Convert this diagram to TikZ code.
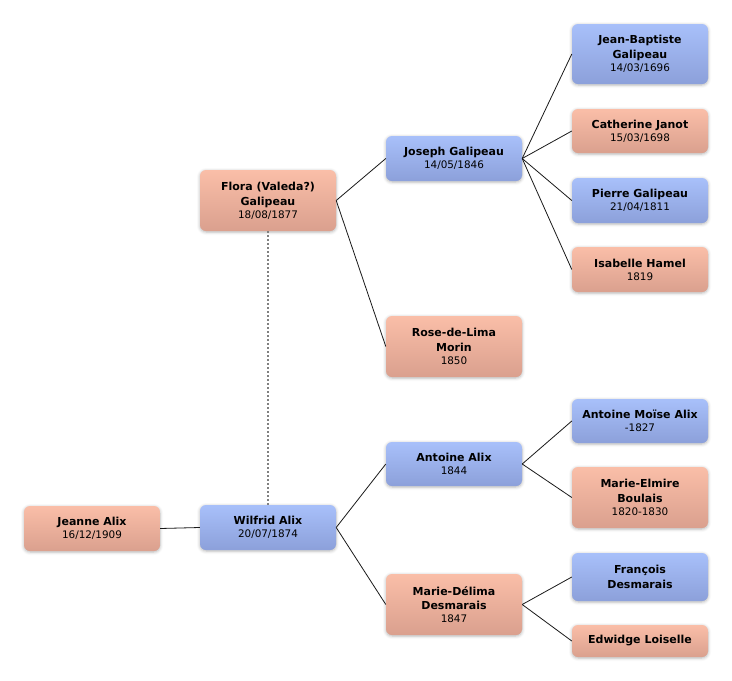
\documentclass[tikz,border=0pt]{standalone}
\usepackage{fontspec}
\setmainfont{DejaVu Sans}
\usetikzlibrary{shadows.blur}
\definecolor{pinktop}{HTML}{FABEA8}
\definecolor{pinkbot}{HTML}{DAA08E}
\definecolor{bluetop}{HTML}{A8C0FA}
\definecolor{bluebot}{HTML}{8CA0DA}
\newcommand\pdate{\fontsize{10.4}{13}\selectfont\mdseries}
\tikzset{
  person/.style={rectangle, rounded corners=6pt, minimum width=136pt, inner sep=0pt,
    align=center, font=\fontsize{11}{14.8}\selectfont\bfseries,
    blur shadow={shadow xshift=0pt, shadow yshift=-1pt, shadow blur radius=3pt, shadow opacity=30}},
  female/.style={person, top color=pinktop, bottom color=pinkbot},
  male/.style={person, top color=bluetop, bottom color=bluebot},
  link/.style={draw=black!90, line width=0.8pt},
  marriage/.style={draw=black!50, line width=1.5pt, dash pattern=on 2pt off 2pt}
}
\begin{document}
\begin{tikzpicture}[x=1pt,y=-1pt]
\useasboundingbox (0,0) rectangle (732,681);
\node[female, minimum height=45pt] (jeanne) at (92,528.5) {Jeanne Alix\\[-2pt]\pdate 16/12/1909};
\node[male, minimum height=45pt] (wilfrid) at (268,527.5) {Wilfrid Alix\\[-2pt]\pdate 20/07/1874};
\node[female, minimum height=61pt] (flora) at (268,200.5) {Flora (Valeda?)\\Galipeau\\[-2pt]\pdate 18/08/1877};
\node[male, minimum height=45pt] (joseph) at (454,158.5) {Joseph Galipeau\\[-2pt]\pdate 14/05/1846};
\node[female, minimum height=61pt] (rose) at (454,346.5) {Rose-de-Lima\\Morin\\[-2pt]\pdate 1850};
\node[male, minimum height=44pt] (antoine) at (454,464) {Antoine Alix\\[-2pt]\pdate 1844};
\node[female, minimum height=61pt] (delima) at (454,604.5) {Marie-Délima\\Desmarais\\[-2pt]\pdate 1847};
\node[male, minimum height=60pt] (jb) at (640,54) {Jean-Baptiste\\Galipeau\\[-2pt]\pdate 14/03/1696};
\node[female, minimum height=44pt] (catherine) at (640,131) {Catherine Janot\\[-2pt]\pdate 15/03/1698};
\node[male, minimum height=45pt] (pierre) at (640,200.5) {Pierre Galipeau\\[-2pt]\pdate 21/04/1811};
\node[female, minimum height=45pt] (isabelle) at (640,269.5) {Isabelle Hamel\\[-2pt]\pdate 1819};
\node[male, minimum height=44pt] (moise) at (640,421) {Antoine Moïse Alix\\[-2pt]\pdate -1827};
\node[female, minimum height=61pt] (elmire) at (640,497.5) {Marie-Elmire\\Boulais\\[-2pt]\pdate 1820-1830};
\node[male, minimum height=48pt] (francois) at (640,577) {François\\Desmarais};
\node[female, minimum height=32pt] (edwidge) at (640,641) {Edwidge Loiselle};
\draw[marriage] (flora.south) -- (wilfrid.north);
\draw[link] (jeanne.east) -- (wilfrid.west);
\draw[link] (wilfrid.east) -- (antoine.west);
\draw[link] (wilfrid.east) -- (delima.west);
\draw[link] (flora.east) -- (joseph.west);
\draw[link] (flora.east) -- (rose.west);
\draw[link] (joseph.east) -- (jb.west);
\draw[link] (joseph.east) -- (catherine.west);
\draw[link] (joseph.east) -- (pierre.west);
\draw[link] (joseph.east) -- (isabelle.west);
\draw[link] (antoine.east) -- (moise.west);
\draw[link] (antoine.east) -- (elmire.west);
\draw[link] (delima.east) -- (francois.west);
\draw[link] (delima.east) -- (edwidge.west);
\end{tikzpicture}
\end{document}
